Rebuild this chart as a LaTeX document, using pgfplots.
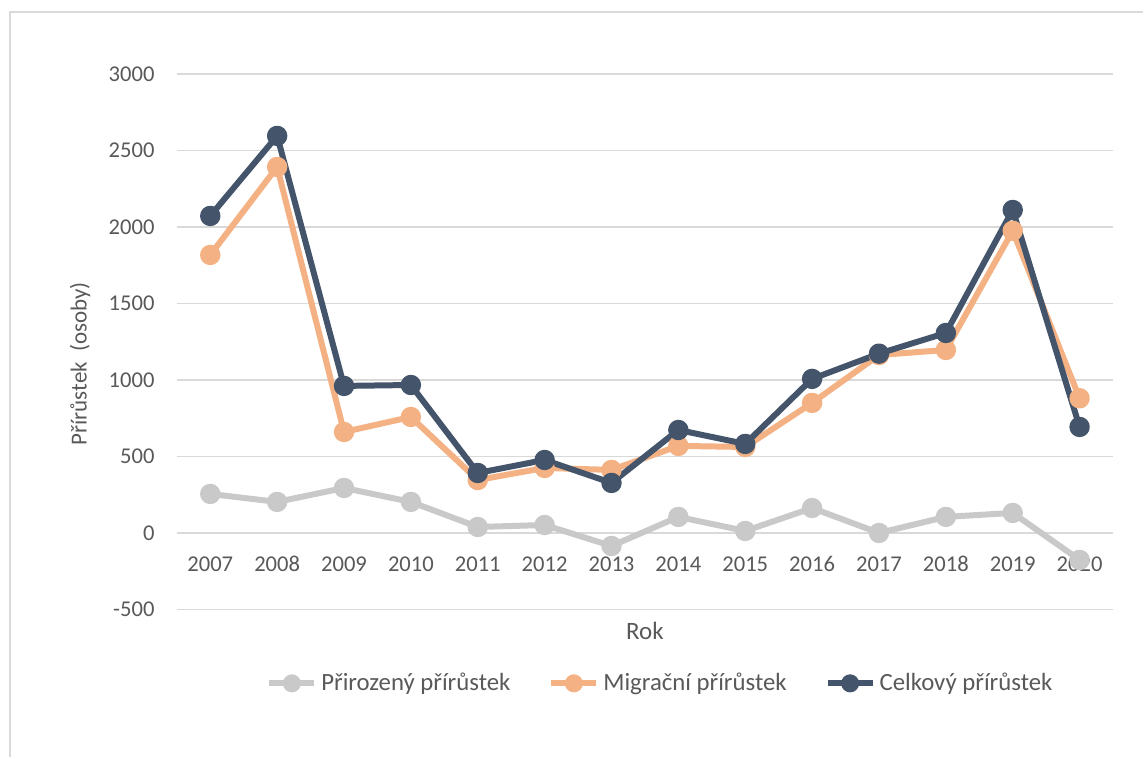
\documentclass[border=0pt]{standalone}
\usepackage{fontspec}
\setmainfont{Carlito}
\usepackage{pgfplots}
\pgfplotsset{compat=1.18}
\definecolor{cgray}{HTML}{C9C9C9}
\definecolor{corange}{HTML}{F4B183}
\definecolor{cnavy}{HTML}{44546A}
\definecolor{ctext}{HTML}{595959}
\definecolor{cgrid}{HTML}{D9D9D9}
\begin{document}
\begin{tikzpicture}
\path (0pt,0pt) rectangle (572pt,379pt);
\draw[cgrid, line width=1pt] (5pt,0pt) -- (5pt,373pt) -- (572pt,373pt);
\begin{axis}[
  at={(88.5pt,74pt)}, anchor=south west, scale only axis,
  width=468.5pt, height=268pt,
  xmin=-0.5, xmax=13.5, ymin=-500, ymax=3000,
  xtick={0,...,13},
  xticklabels={2007,2008,2009,2010,2011,2012,2013,2014,2015,2016,2017,2018,2019,2020},
  ytick={-500,0,500,1000,1500,2000,2500,3000},
  yticklabels={-500,0,500,1000,1500,2000,2500,3000},
  ymajorgrids, grid style={cgrid, line width=0.75pt},
  axis line style={draw=none}, major tick length=0pt,
  tick label style={font=\fontsize{11.3}{13}\selectfont, text=ctext, inner sep=0pt},
  yticklabel style={anchor=east, xshift=-11pt},
  xticklabel style={anchor=base, yshift=19pt},
  xlabel={Rok}, ylabel={Přírůstek\ \ (osoby)},
  every axis x label/.style={at={(axis description cs:0.5,-0.0392)}, anchor=center,
    font=\fontsize{12.5}{14}\selectfont, text=ctext},
  every axis y label/.style={at={(axis description cs:-0.1035,0.459)}, anchor=center, rotate=90,
    font=\fontsize{11.5}{14}\selectfont, text=ctext},
  clip=false,
  legend columns=3,
  legend style={at={(axis description cs:0.5176,-0.138)}, anchor=center, draw=none, fill=none,
    font=\fontsize{12.4}{14}\selectfont, text=ctext,
    /tikz/every even column/.append style={column sep=17pt},
    inner sep=0pt},
  legend cell align=left,
  legend image code/.code={\draw[#1, mark size=3pt, mark repeat=2, mark phase=2] plot coordinates {(0pt,0pt) (11.25pt,0pt) (22.5pt,0pt)};},
  every axis plot/.append style={line width=3pt, line join=round, mark=*, mark size=3.6pt},
]
\addplot[cgray, mark options={draw=none, fill=cgray}] coordinates {
(0,255) (1,203) (2,294) (3,203) (4,39) (5,52) (6,-85) (7,105) (8,13) (9,163) (10,0) (11,105) (12,131) (13,-176)};
\addlegendentry{Přirozený přírůstek}
\addplot[corange, mark options={draw=none, fill=corange}] coordinates {
(0,1817) (1,2392) (2,660) (3,758) (4,346) (5,425) (6,412) (7,569) (8,562) (9,850) (10,1163) (11,1196) (12,1975) (13,880)};
\addlegendentry{Migrační přírůstek}
\addplot[cnavy, mark options={draw=none, fill=cnavy}] coordinates {
(0,2072) (1,2595) (2,961) (3,967) (4,392) (5,477) (6,327) (7,673) (8,582) (9,1007) (10,1172) (11,1307) (12,2111) (13,693)};
\addlegendentry{Celkový přírůstek}
\end{axis}
\end{tikzpicture}
\end{document}
